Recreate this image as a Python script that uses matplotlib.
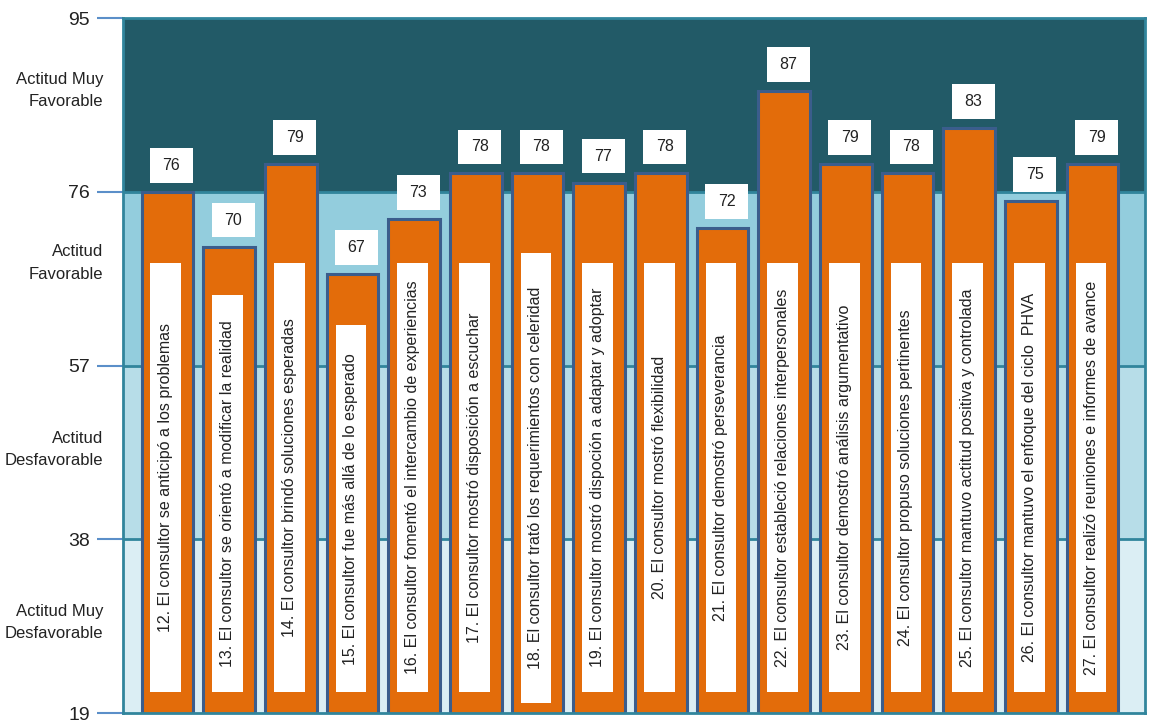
import matplotlib
matplotlib.use("Agg")
import matplotlib.pyplot as plt
from matplotlib.patches import Rectangle

# data
items = [
    "12. El consultor se anticipó a los problemas",
    "13. El consultor se orientó a modificar la realidad",
    "14. El consultor brindó soluciones esperadas",
    "15. El consultor fue más allá de lo esperado",
    "16. El consultor fomentó el intercambio de experiencias",
    "17. El consultor mostró disposición a escuchar",
    "18. El consultor trató los requerimientos con celeridad",
    "19. El consultor mostró dispoción a adaptar y adoptar",
    "20. El consultor mostró flexibilidad",
    "21. El consultor demostró perseverancia",
    "22. El consultor estableció relaciones interpersonales",
    "23. El consultor demostró análisis argumentativo",
    "24. El consultor propuso soluciones pertinentes",
    "25. El consultor mantuvo actitud positiva y controlada",
    "26. El consultor mantuvo el enfoque del ciclo  PHVA",
    "27. El consultor realizó reuniones e informes de avance",
]
scores = [76, 70, 79, 67, 73, 78, 78, 77, 78, 72, 87, 79, 78, 83, 75, 79]

band_limits = [19, 38, 57, 76, 95]
band_names = ["Actitud Muy\nDesfavorable", "Actitud\nDesfavorable",
              "Actitud\nFavorable", "Actitud Muy\nFavorable"]

# layout / style
band_colors = ["#DBEEF4", "#B7DDE8", "#93CDDD", "#225A67"]
band_label_y = [28.9, 47.8, 68.2, 87.1]
label_box_top = [68.2, 64.7, 68.2, 61.4, 68.2, 68.2, 69.3, 68.2,
                 68.2, 68.2, 68.2, 68.2, 68.2, 68.2, 68.2, 68.2]
label_box_bottom = [21.3, 21.3, 21.3, 21.3, 21.3, 21.3, 20.1, 21.3,
                    21.3, 21.3, 21.3, 21.3, 21.3, 21.3, 21.3, 21.3]
font = ["Liberation Sans", "DejaVu Sans"]

fig = plt.figure(figsize=(11.52, 7.23), dpi=100)
ax = fig.add_axes([0.1068, 0.0138, 0.8871, 0.9613])

x = list(range(len(scores)))
ax.set_xlim(-0.72, len(scores) - 1 + 0.85)
ax.set_ylim(band_limits[0], band_limits[-1])

# background bands
for i in range(len(band_colors)):
    ax.axhspan(band_limits[i], band_limits[i + 1], color=band_colors[i], zorder=0)
for b in band_limits[1:-1]:
    ax.axhline(b, color="#31859C", lw=2, zorder=1)

ax.bar(x, scores, width=0.84, bottom=0, color="#E36C0A",
       edgecolor="#3B5D8C", linewidth=2.2, zorder=2)

for xi, v, name, top, bot in zip(x, scores, items, label_box_top, label_box_bottom):
    # value box above the bar
    ax.add_patch(Rectangle((xi + 0.065 - 0.35, v + 1.0), 0.70, 3.8,
                           facecolor="white", edgecolor="none", zorder=3))
    ax.text(xi + 0.065, v + 2.9, str(v), ha="center", va="center",
            fontsize=11.5, family=font, color="#222222", zorder=4)
    # category box inside the bar
    ax.add_patch(Rectangle((xi - 0.025 - 0.25, bot), 0.50, top - bot,
                           facecolor="white", edgecolor="none", zorder=3))
    ax.text(xi - 0.025, (top + bot) / 2, name, rotation=90, ha="center",
            va="center", fontsize=11.5, family=font, color="#222222", zorder=4)

for s in ax.spines.values():
    s.set_color("#31859C")
    s.set_linewidth(2)
    s.set_zorder(5)

ax.set_xticks([])
ax.set_yticks(band_limits)
ax.set_yticklabels([str(b) for b in band_limits], fontsize=14, family=font,
                   color="#222222")
ax.tick_params(axis="y", length=18.7, width=1.5, color="#5B8FC9", pad=5)

for yv, name in zip(band_label_y, band_names):
    ax.text(-0.0196, yv, name, transform=ax.get_yaxis_transform(), ha="right",
            va="center", fontsize=12, family=font, color="#222222",
            linespacing=1.6)

fig.savefig("out.png", dpi=100)
